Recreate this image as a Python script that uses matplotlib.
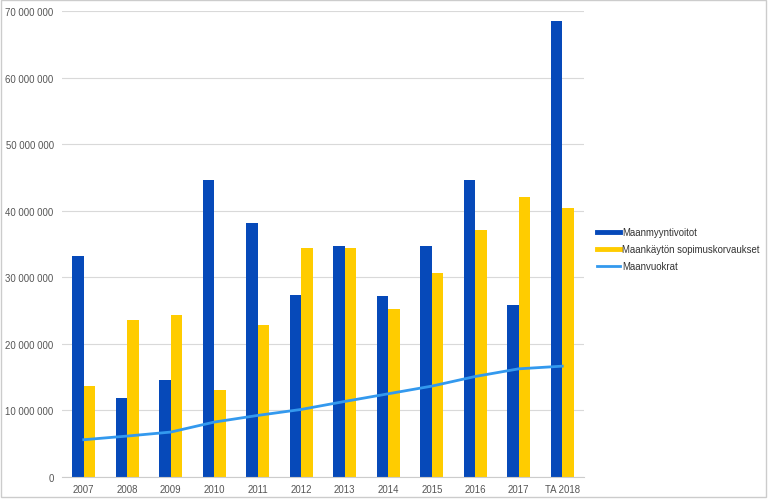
import matplotlib.pyplot as plt
from matplotlib.lines import Line2D
from matplotlib.patches import Rectangle
from matplotlib.ticker import FuncFormatter
import numpy as np

plt.rcParams['font.family'] = ['Liberation Sans', 'DejaVu Sans']

years = ['2007', '2008', '2009', '2010', '2011', '2012', '2013', '2014',
         '2015', '2016', '2017', 'TA 2018']
maanmyyntivoitot = [33.15, 11.9, 14.6, 44.55, 38.2, 27.3, 34.65, 27.2,
                    34.65, 44.55, 25.9, 68.55]
sopimuskorvaukset = [13.7, 23.6, 24.4, 13.1, 22.9, 34.4, 34.35, 25.25,
                     30.7, 37.15, 42.0, 40.45]
maanvuokrat = [5.6, 6.15, 6.75, 8.25, 9.25, 10.15, 11.35, 12.5,
               13.65, 15.1, 16.25, 16.65]
# values in millions of euros
maanmyyntivoitot = [v * 1e6 for v in maanmyyntivoitot]
sopimuskorvaukset = [v * 1e6 for v in sopimuskorvaukset]
maanvuokrat = [v * 1e6 for v in maanvuokrat]

blue = '#0649b9'
yellow = '#ffcc00'
light = '#3399ee'
grey_text = '#555555'

fig = plt.figure(figsize=(7.68, 5.02), dpi=100)
ax = fig.add_axes([62 / 768, 24 / 502, 522 / 768, 466 / 502])

x = np.arange(len(years))
w = 0.267
ax.bar(x - w / 2, maanmyyntivoitot, width=w, color=blue, zorder=2)
ax.bar(x + w / 2, sopimuskorvaukset, width=w, color=yellow, zorder=2)
ax.plot(x, maanvuokrat, color=light, lw=2, zorder=3, solid_joinstyle='round')

ax.set_xlim(-0.5, len(years) - 0.5)
ax.set_ylim(0, 70e6)
ax.set_yticks(np.arange(0, 70e6 + 1, 10e6))
ax.yaxis.set_major_formatter(FuncFormatter(lambda v, p: f'{int(v):,}'.replace(',', ' ')))
ax.set_xticks(x)
ax.set_xticklabels(years)
ax.tick_params(axis='both', length=0, labelsize=6.9, colors=grey_text)
ax.tick_params(axis='y', pad=6)
ax.tick_params(axis='x', pad=5)
ax.grid(axis='y', color='#d9d9d9', lw=0.8, zorder=0)
for s in ['top', 'right', 'left']:
    ax.spines[s].set_visible(False)
ax.spines['bottom'].set_color('#cccccc')
ax.spines['bottom'].set_linewidth(0.8)

handles = [Line2D([], [], color=blue, lw=3.5),
           Line2D([], [], color=yellow, lw=3.5),
           Line2D([], [], color=light, lw=2)]
labels = ['Maanmyyntivoitot', 'Maankäytön sopimuskorvaukset', 'Maanvuokrat']
fig.legend(handles, labels, loc='upper left', bbox_to_anchor=(597 / 768, 1 - 228 / 502),
           frameon=False, fontsize=6.9, handlelength=2.4, handletextpad=0.2,
           labelspacing=0.75, borderpad=0, borderaxespad=0, labelcolor='#333333')

fig.patches.append(Rectangle((0.001, 0.008), 0.997, 0.99, transform=fig.transFigure,
                             fill=False, edgecolor='#cccccc', lw=1))

plt.savefig('out.png', dpi=100)
